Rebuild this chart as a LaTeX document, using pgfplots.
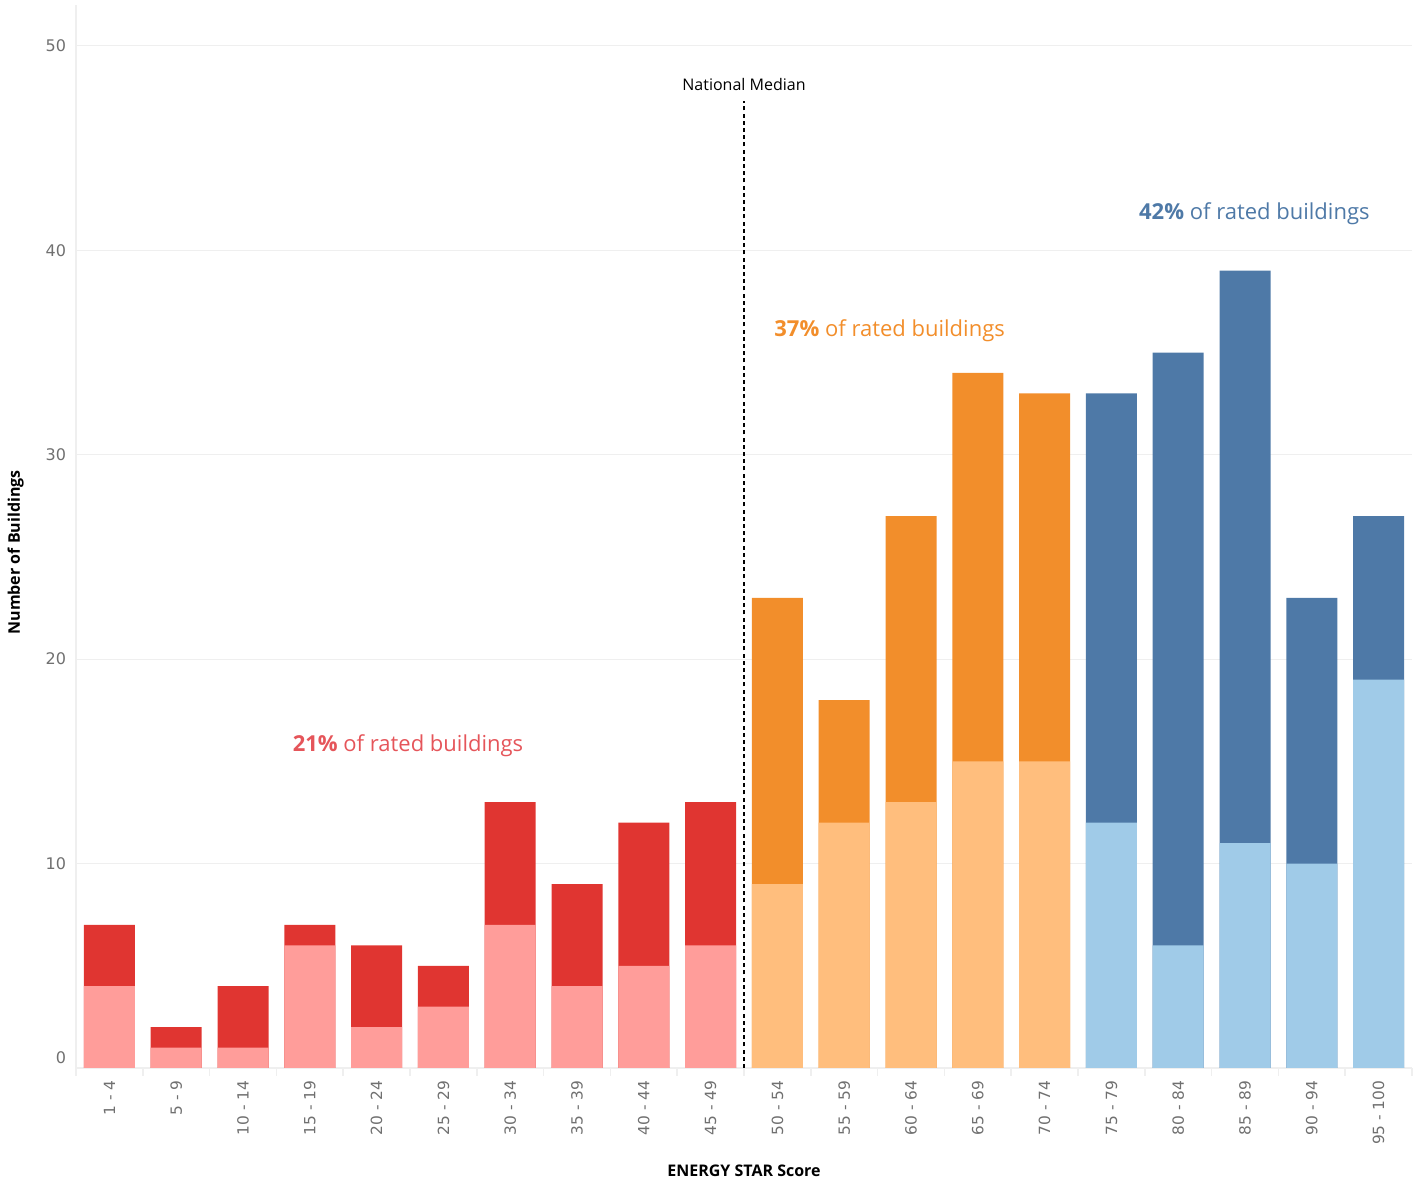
\documentclass[border=0pt]{standalone}
\usepackage{pgfplots}
\pgfplotsset{compat=1.18}
\usepackage{fontspec}
\setmainfont{Open Sans}
\newfontfamily\tickfont{DejaVu Sans}
\usetikzlibrary{calc}

\definecolor{reddark}{HTML}{E03531}
\definecolor{redlight}{HTML}{FF9D9A}
\definecolor{orangedark}{HTML}{F28E2B}
\definecolor{orangelight}{HTML}{FFBE7D}
\definecolor{bluedark}{HTML}{4E79A7}
\definecolor{bluelight}{HTML}{A0CBE8}
\definecolor{redtext}{HTML}{E5555A}
\definecolor{gridgray}{HTML}{EFEFEF}
\definecolor{ticklabel}{HTML}{707070}

\begin{document}
\begin{tikzpicture}
\begin{axis}[
  name=ax,
  scale only axis,
  width=668pt, height=531.5pt,
  xmin=-0.5, xmax=19.5,
  ymin=0, ymax=52,
  ybar, bar shift=0pt, bar width=25.5pt,
  axis line style={gridgray, line width=0.8pt},
  axis x line*=bottom, axis y line*=left,
  xtick={0,...,19},
  xticklabels={1 - 4,5 - 9,10 - 14,15 - 19,20 - 24,25 - 29,30 - 34,35 - 39,40 - 44,45 - 49,50 - 54,55 - 59,60 - 64,65 - 69,70 - 74,75 - 79,80 - 84,85 - 89,90 - 94,95 - 100},
  x tick label style={rotate=90, anchor=east, font=\tickfont\fontsize{7.7}{9}\selectfont, text=ticklabel, xshift=1.5pt},
  major x tick style={draw=none},
  minor xtick={-0.5,0.5,...,19.5},
  minor x tick style={gridgray, line width=0.8pt},
  minor tick length=4pt,
  xtick align=outside,
  ytick={10,20,...,50},
  extra y ticks={0},
  extra y tick style={yticklabel style={yshift=5pt}},
  /pgf/number format/assume math mode=true,
  y tick label style={font=\tickfont\fontsize{8}{9}\selectfont, text=ticklabel, xshift=-1.5pt},
  major y tick style={draw=none},
  ymajorgrids, grid style={gridgray, line width=0.6pt},
  xlabel={\bfseries ENERGY STAR Score},
  ylabel={\bfseries Number of Buildings},
  label style={font=\fontsize{8}{9}\selectfont\bfseries},
  xlabel style={at={(axis description cs:0.5,0)}, anchor=base, yshift=-54.5pt},
  ylabel style={at={(ticklabel cs:0.485)}, yshift=4pt},
  clip=false,
]
% totals (dark) drawn first, the lighter share laid over from zero
\addplot[fill=reddark, draw=none] coordinates {
  (0,7) (1,2) (2,4) (3,7) (4,6) (5,5) (6,13) (7,9) (8,12) (9,13)};
\addplot[fill=redlight, draw=none] coordinates {
  (0,4) (1,1) (2,1) (3,6) (4,2) (5,3) (6,7) (7,4) (8,5) (9,6)};
\addplot[fill=orangedark, draw=none] coordinates {
  (10,23) (11,18) (12,27) (13,34) (14,33)};
\addplot[fill=orangelight, draw=none] coordinates {
  (10,9) (11,12) (12,13) (13,15) (14,15)};
\addplot[fill=bluedark, draw=none] coordinates {
  (15,33) (16,35) (17,39) (18,23) (19,27)};
\addplot[fill=bluelight, draw=none] coordinates {
  (15,12) (16,6) (17,11) (18,10) (19,19)};
% national median marker
\addplot[sharp plot, black, line width=0.8pt, dash pattern=on 2pt off 1.6pt] coordinates {(9.5,0) (9.5,47.3)};
\node[font=\fontsize{8}{9}\selectfont, anchor=base] at (axis cs:9.5,47.8) {National Median};
\node[font=\fontsize{11}{12}\selectfont, text=redtext, anchor=base] at (axis cs:4.47,15.5) {\textbf{21\%} of rated buildings};
\node[font=\fontsize{11}{12}\selectfont, text=orangedark, anchor=base] at (axis cs:11.68,35.8) {\textbf{37\%} of rated buildings};
\node[font=\fontsize{11}{12}\selectfont, text=bluedark, anchor=base] at (axis cs:17.14,41.5) {\textbf{42\%} of rated buildings};
\end{axis}
\pgfresetboundingbox
\path[use as bounding box] ($(ax.south west)+(-38pt,-56.5pt)$) rectangle ($(ax.north east)+(2.5pt,2.5pt)$);
\end{tikzpicture}
\end{document}
